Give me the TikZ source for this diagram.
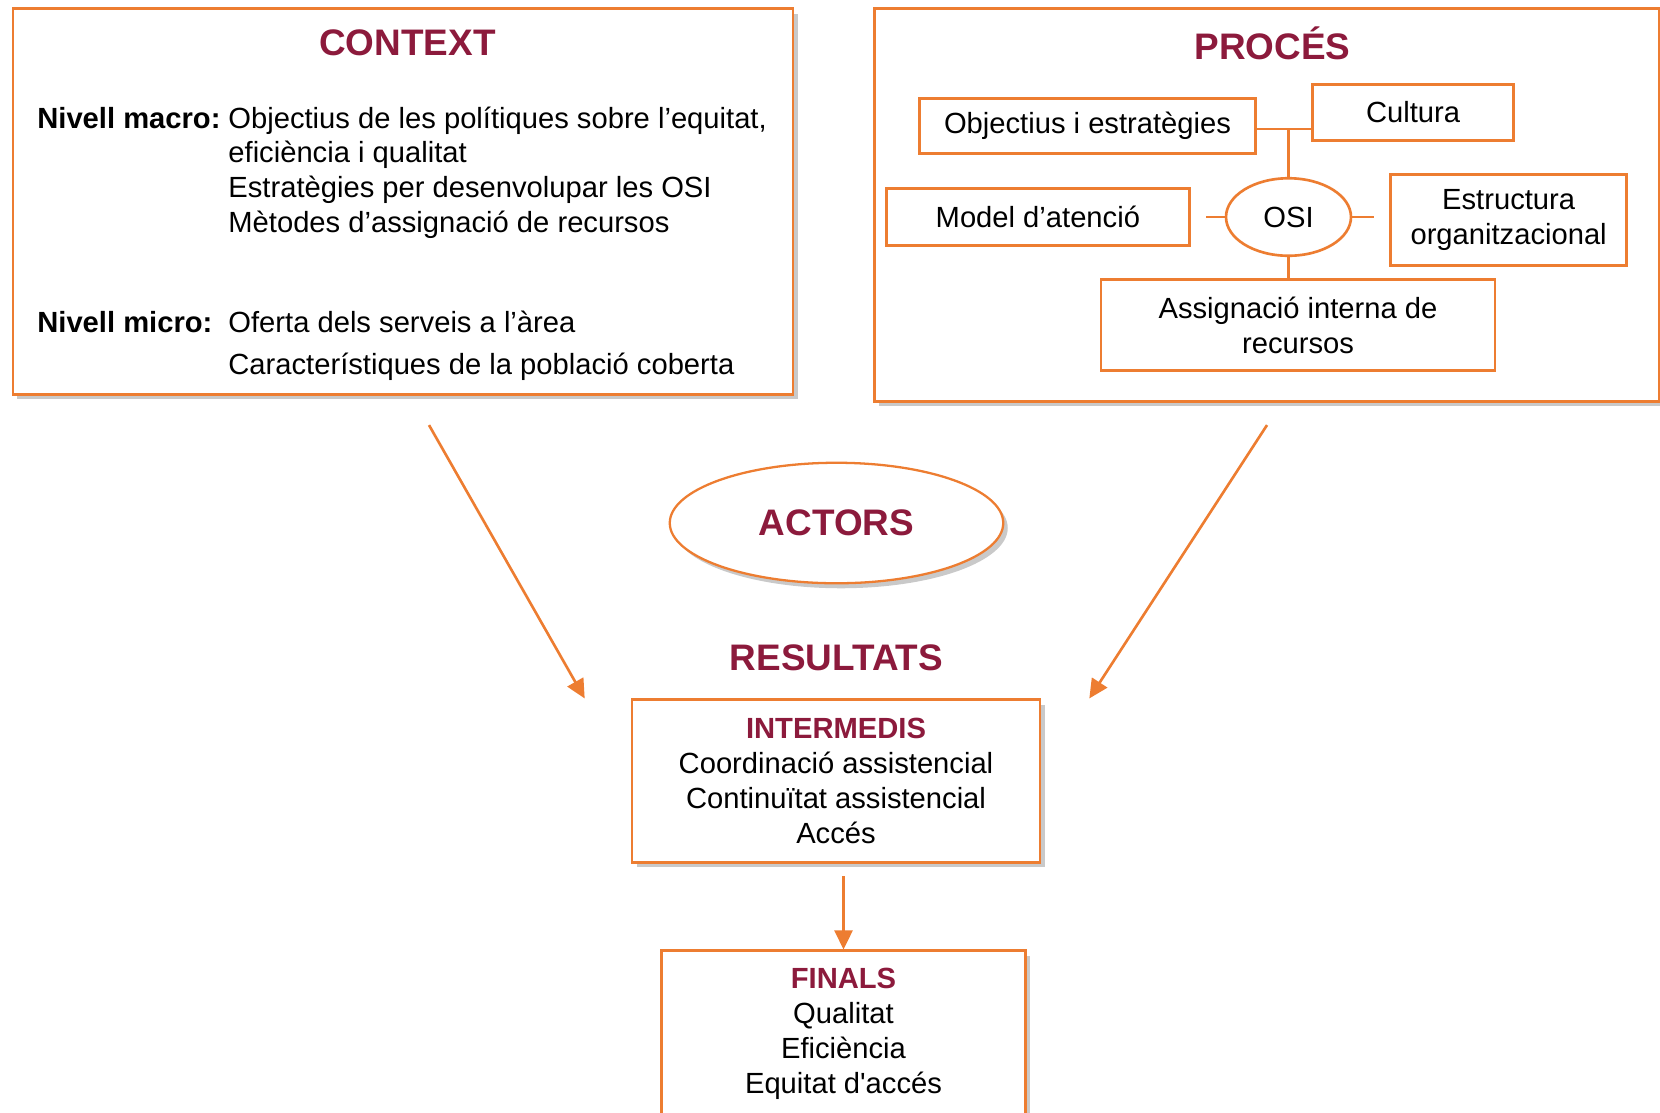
\documentclass[tikz,border=0pt]{standalone}
\usepackage{fontspec}
\setmainfont{Liberation Sans}
\usetikzlibrary{positioning,shapes.geometric,shadows,arrows.meta}
\definecolor{osiorange}{HTML}{ED7D31}
\definecolor{osired}{HTML}{8C1A3C}
\tikzset{>={Triangle[length=0.38cm,width=0.36cm]}}
\newcommand{\txtsize}{\fontsize{16.6}{19.9}\selectfont}
\tikzstyle{panel}=[rectangle,draw=osiorange,line width=1.5pt,fill=white,align=center,font=\txtsize,drop shadow={shadow xshift=0.09cm,shadow yshift=-0.1cm,opacity=0.3,fill=black!70}]
\tikzstyle{box}=[rectangle,draw=osiorange,line width=1.5pt,fill=white,align=center,inner sep=0pt,font=\txtsize]
\tikzstyle{bubble}=[ellipse,draw=osiorange,line width=1.3pt,fill=white,inner sep=0pt]
\tikzstyle{heading}=[text=osired,font=\fontsize{21}{25}\selectfont\bfseries,inner sep=0pt]
\tikzstyle{link}=[draw=osiorange,line width=1.5pt]
\tikzstyle{flow}=[link,->]
\newcommand{\subhead}[1]{\textcolor{osired}{\textbf{#1}}}

\begin{document}
\begin{tikzpicture}
\useasboundingbox (0,0) rectangle (33.2,-22.24);
\node[panel,minimum width=15.6cm,minimum height=7.71cm] (context) at (8.06,-4.03) {};
\node[heading] (contexttitle) at (8.15,-0.85) {CONTEXT};
\node[anchor=base west,inner sep=0pt,font=\txtsize] (contextlist) at (0.74,-2.56) {\begin{tabular}[t]{@{}l@{\hspace{0.27em}}l@{}}
\textbf{Nivell macro:} & Objectius de les polítiques sobre l’equitat,\\
 & eficiència i qualitat\\
 & Estratègies per desenvolupar les OSI\\
 & Mètodes d’assignació de recursos\\[36.7pt]
\textbf{Nivell micro:} & Oferta dels serveis a l’àrea\\[4.2pt]
 & Característiques de la població coberta
\end{tabular}};

\node[panel,minimum width=15.69cm,minimum height=7.85cm] (proces) at (25.34,-4.1) {};
\node[heading] (procestitle) at (25.45,-0.87) {PROCÉS};
\node[bubble,line width=1.5pt,minimum width=2.5cm,minimum height=1.55cm,font=\txtsize] (osi) at (25.77,-4.34) {OSI};
\node[box,minimum width=6.71cm,minimum height=1.1cm] (objectius) at (21.75,-2.52) {Objectius i estratègies};
\node[box,minimum width=4.01cm,minimum height=1.13cm] (cultura) at (28.26,-2.25) {Cultura};
\node[box,minimum width=6.06cm,minimum height=1.13cm,left=0.68cm of osi] (model) {Model d’atenció};
\node[box,minimum width=4.72cm,minimum height=1.83cm,right=0.74cm of osi,yshift=-0.06cm] (estructura) {Estructura\\organitzacional};
\node[box,minimum width=7.88cm,minimum height=1.83cm] (assignacio) at (25.96,-6.5) {Assignació interna de\\recursos};
\coordinate (hub) at (25.77,-2.58);
\draw[link] (objectius.east |- hub) -- (cultura.west |- hub);
\draw[link] (hub) -- (osi.north);
\draw[link] (osi.south) -- (osi.south |- assignacio.north);
\draw[link,shorten >=0.3cm] (osi.west) -- (osi.west -| model.east);
\draw[link,shorten >=0.3cm] (osi.east) -- (osi.east -| estructura.west);

\node[bubble,heading,minimum width=6.67cm,minimum height=2.41cm,drop shadow={shadow xshift=0.09cm,shadow yshift=-0.1cm,opacity=0.3,fill=black!70}] (actors) at (16.73,-10.46) {ACTORS};
\node[heading] (resultats) at (16.73,-13.15) {RESULTATS};
\node[panel,minimum width=8.16cm,minimum height=3.25cm] (intermedis) at (16.72,-15.62) {\subhead{INTERMEDIS}\\Coordinació assistencial\\Continuïtat assistencial\\Accés};
\node[panel,minimum width=7.28cm,minimum height=3.31cm] (finals) at (16.87,-20.67) {\subhead{FINALS}\\Qualitat\\Eficiència\\Equitat d\textquotesingle accés};
\draw[flow,shorten <=0.25cm] (finals.north |- intermedis.south) -- (finals.north);

\coordinate (contextfoot) at ([xshift=0.52cm,yshift=-0.59cm]context.south);
\coordinate (procesfoot) at ([yshift=-0.45cm]proces.south);
\coordinate (leftin) at ([xshift=-0.92cm]intermedis.north west);
\coordinate (rightin) at ([xshift=0.96cm]intermedis.north east);
\draw[flow] (contextfoot) -- (leftin);
\draw[flow] (procesfoot) -- (rightin);
\end{tikzpicture}
\end{document}
